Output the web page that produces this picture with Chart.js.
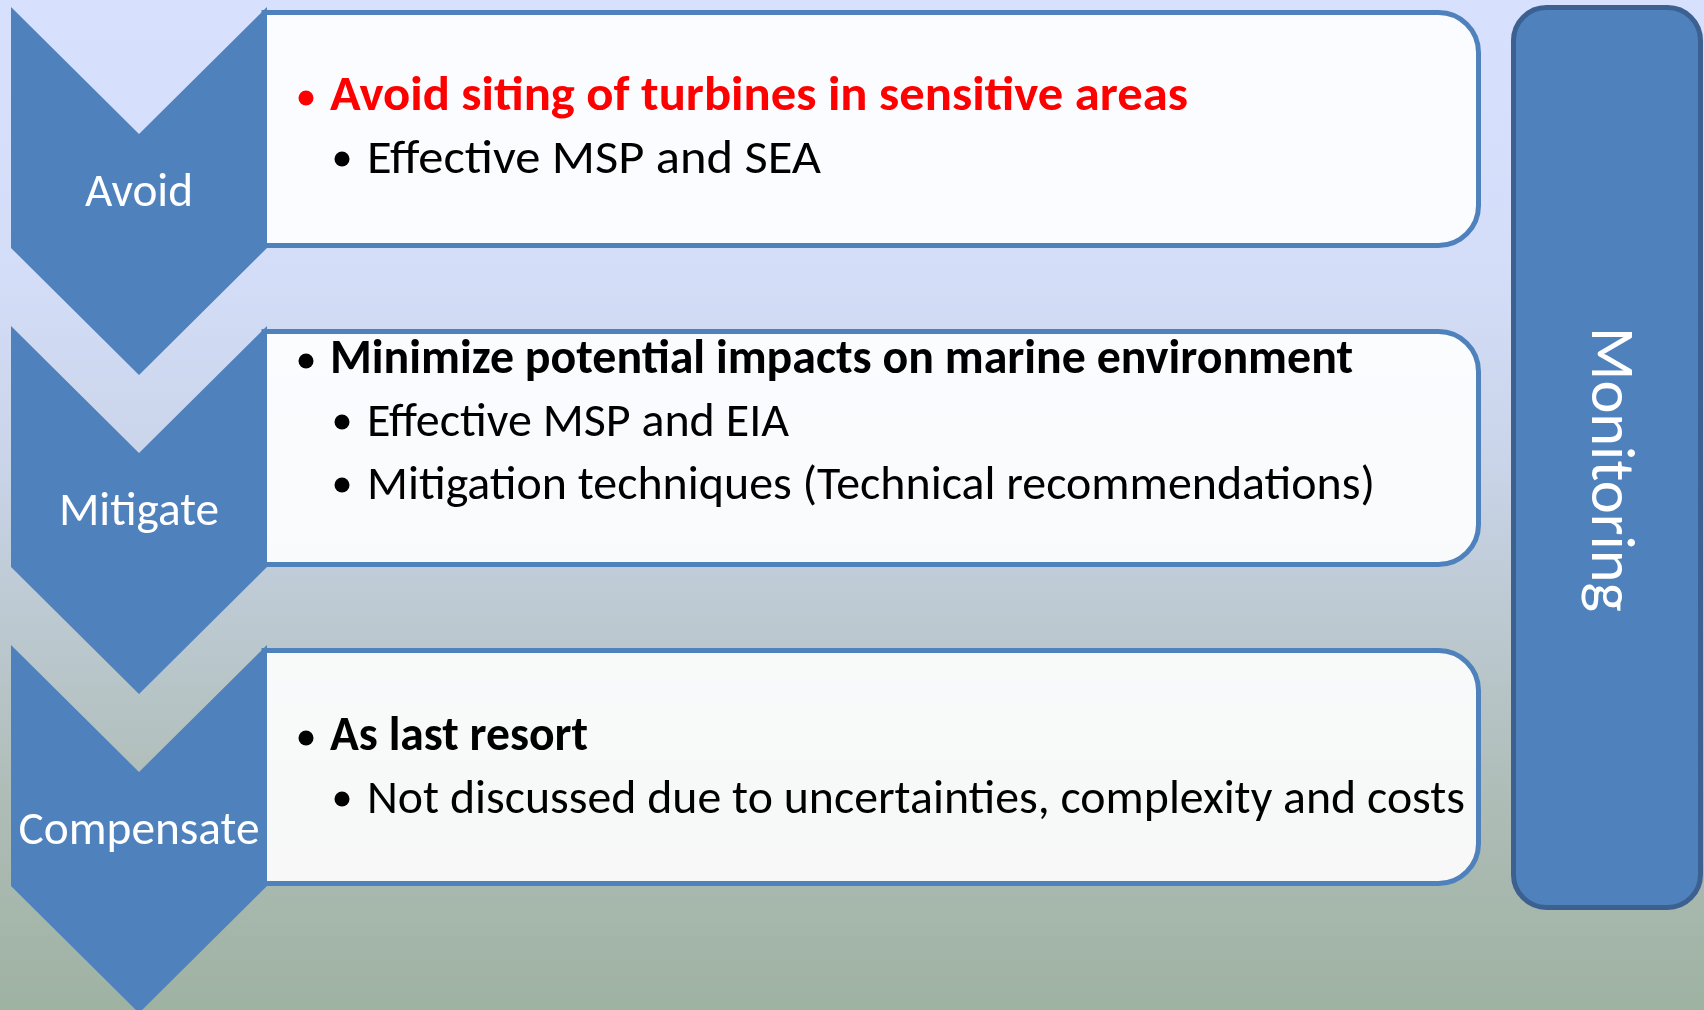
<!DOCTYPE html>
<html>
<head>
<meta charset="utf-8">
<script src="https://cdn.jsdelivr.net/npm/chart.js@4.4.1/dist/chart.umd.min.js"></script>
<style>
  html, body { margin: 0; padding: 0; overflow: hidden; background: #ffffff; }
  canvas { display: block; }
</style>
</head>
<body>
<canvas id="c" width="1704" height="1010"></canvas>
<script>
// ---------- DATA ----------
const stages = ['Avoid', 'Mitigate', 'Compensate'];
const headlines = [
  'Avoid siting of turbines in sensitive areas',
  'Minimize potential impacts on marine environment',
  'As last resort'
];
const details = [
  ['Effective MSP and SEA'],
  ['Effective MSP and EIA', 'Mitigation techniques (Technical recommendations)'],
  ['Not discussed due to uncertainties, complexity and costs']
];
const highlighted = [true, false, false];
const sideLabel = 'Monitoring';

// ---------- LAYOUT / STYLE ----------
const LAYOUT = {
  stageTop0: 7, stageStep: 319,
  chevLeft: 11, chevRight: 267, chevNotch: 127, chevBody: 241,
  boxLeft: 264, boxRight: 1478.5, boxTopInset: 5.5, boxBottomInset: 238.5, boxRadius: 40, boxLine: 5,
  headOffset: [103, 47, 105], lineStep: 63,
  bullet1X: 306, text1X: 330, bullet2X: 342, text2X: 367, bulletR: 7.5,
  labelX: 139, labelOffset: 199,
  mon: { left: 1513.5, right: 1700.5, top: 7.5, bottom: 907.5, r: 33, baseX: 1592, startY: 327, line: 5 },
  fit: { regular: 1098, bold: 1023, label: 241, side: 285 },
  headWidths: [858, 1023, 258],
  detailWidths: [[454], [422, 1008], [1098]]
};
const STYLE = {
  family: 'Carlito, Lato, "Open Sans", sans-serif',
  blue: '#4f81bd', blueDark: '#3c6090',
  boxFill: 'rgba(255,255,255,0.9)',
  red: '#ff0000', text: '#000000', white: '#ffffff',
  bg: [[0, '#d7e1fe'], [0.25, '#d4def9'], [0.45, '#cad5ea'], [0.6, '#bdcad3'], [0.8, '#aebcb6'], [1, '#9eb2a2']]
};

function fitSize(ctx, text, weight, target) {
  ctx.font = weight + ' 100px ' + STYLE.family;
  const w = ctx.measureText(text).width;
  return 100 * target / w;
}
function stretchText(ctx, text, x, y, target) {
  const w = ctx.measureText(text).width;
  const sx = Math.max(0.9, Math.min(1.1, target / w));
  ctx.save();
  ctx.translate(x, y);
  ctx.scale(sx, 1);
  ctx.fillText(text, 0, 0);
  ctx.restore();
}

const diagramPlugin = {
  id: 'diagram',
  beforeDraw(chart) {
    const ctx = chart.ctx;
    const g = ctx.createLinearGradient(0, 0, 0, chart.height);
    STYLE.bg.forEach(s => g.addColorStop(s[0], s[1]));
    ctx.save();
    ctx.fillStyle = g;
    ctx.fillRect(0, 0, chart.width, chart.height);
    ctx.restore();
  },
  afterDraw(chart) {
    const ctx = chart.ctx;
    const xs = chart.scales.x, ys = chart.scales.y;
    const px = v => xs.getPixelForValue(v);
    const py = v => ys.getPixelForValue(v);
    const L = LAYOUT;

    const regSize = fitSize(ctx, details[2][0], '400', L.fit.regular);
    const boldSize = fitSize(ctx, headlines[1], '700', L.fit.bold);
    const labelSize = fitSize(ctx, stages[2], '400', L.fit.label);
    const sideSize = fitSize(ctx, sideLabel, '400', L.fit.side);

    ctx.save();
    stages.forEach((stage, i) => {
      const t = L.stageTop0 + i * L.stageStep;
      // content box
      const T = py(t + L.boxTopInset), B = py(t + L.boxBottomInset);
      const Lx = px(L.boxLeft), R = px(L.boxRight), r = L.boxRadius;
      ctx.beginPath();
      ctx.moveTo(Lx, T);
      ctx.lineTo(R - r, T);
      ctx.arcTo(R, T, R, T + r, r);
      ctx.lineTo(R, B - r);
      ctx.arcTo(R, B, R - r, B, r);
      ctx.lineTo(Lx, B);
      ctx.closePath();
      ctx.fillStyle = STYLE.boxFill;
      ctx.fill();
      ctx.lineWidth = L.boxLine;
      ctx.strokeStyle = STYLE.blue;
      ctx.stroke();

      // chevron
      const cx = (L.chevLeft + L.chevRight) / 2;
      ctx.beginPath();
      ctx.moveTo(px(L.chevLeft), py(t));
      ctx.lineTo(px(cx), py(t + L.chevNotch));
      ctx.lineTo(px(L.chevRight), py(t));
      ctx.lineTo(px(L.chevRight), py(t + L.chevBody));
      ctx.lineTo(px(cx), py(t + L.chevBody + L.chevNotch));
      ctx.lineTo(px(L.chevLeft), py(t + L.chevBody));
      ctx.closePath();
      ctx.fillStyle = STYLE.blue;
      ctx.fill();

      // stage label
      ctx.font = '400 ' + labelSize + 'px ' + STYLE.family;
      ctx.fillStyle = STYLE.white;
      ctx.textAlign = 'center';
      ctx.textBaseline = 'alphabetic';
      ctx.fillText(stage, px(L.labelX), py(t + L.labelOffset));

      // headline
      const base = t + L.headOffset[i];
      const headColor = highlighted[i] ? STYLE.red : STYLE.text;
      ctx.fillStyle = headColor;
      ctx.beginPath();
      ctx.arc(px(L.bullet1X), py(base - 12), L.bulletR, 0, Math.PI * 2);
      ctx.fill();
      ctx.font = '700 ' + boldSize + 'px ' + STYLE.family;
      ctx.textAlign = 'left';
      stretchText(ctx, headlines[i], px(L.text1X), py(base), L.headWidths[i]);

      // details
      ctx.font = '400 ' + regSize + 'px ' + STYLE.family;
      details[i].forEach((d, k) => {
        const b = base + (k + 1) * L.lineStep;
        ctx.fillStyle = STYLE.text;
        ctx.beginPath();
        ctx.arc(px(L.bullet2X), py(b - 14), L.bulletR, 0, Math.PI * 2);
        ctx.fill();
        stretchText(ctx, d, px(L.text2X), py(b), L.detailWidths[i][k]);
      });
    });

    // monitoring bar
    const m = L.mon;
    const mL = px(m.left), mR = px(m.right), mT = py(m.top), mB = py(m.bottom);
    ctx.beginPath();
    ctx.moveTo(mL + m.r, mT);
    ctx.arcTo(mR, mT, mR, mB, m.r);
    ctx.arcTo(mR, mB, mL, mB, m.r);
    ctx.arcTo(mL, mB, mL, mT, m.r);
    ctx.arcTo(mL, mT, mR, mT, m.r);
    ctx.closePath();
    ctx.fillStyle = STYLE.blue;
    ctx.fill();
    ctx.lineWidth = m.line;
    ctx.strokeStyle = STYLE.blueDark;
    ctx.stroke();

    ctx.translate(px(m.baseX), py(m.startY));
    ctx.rotate(Math.PI / 2);
    ctx.font = '400 ' + sideSize + 'px ' + STYLE.family;
    ctx.fillStyle = STYLE.white;
    ctx.textAlign = 'left';
    ctx.textBaseline = 'alphabetic';
    ctx.fillText(sideLabel, 0, 0);
    ctx.restore();
  }
};

function build() {
  new Chart(document.getElementById('c').getContext('2d'), {
    type: 'scatter',
    data: { datasets: [] },
    options: {
      responsive: false,
      animation: false,
      devicePixelRatio: 1,
      events: [],
      layout: { padding: 0 },
      plugins: { legend: { display: false }, tooltip: { enabled: false }, title: { display: false } },
      scales: {
        x: { type: 'linear', min: 0, max: 1704, display: false },
        y: { type: 'linear', min: 0, max: 1010, reverse: true, display: false }
      }
    },
    plugins: [diagramPlugin]
  });
}
const loads = ['400 40px Lato', '700 40px Lato'].map(f => document.fonts ? document.fonts.load(f).catch(() => null) : null);
Promise.all(loads).then(build, build);
</script>
</body>
</html>
